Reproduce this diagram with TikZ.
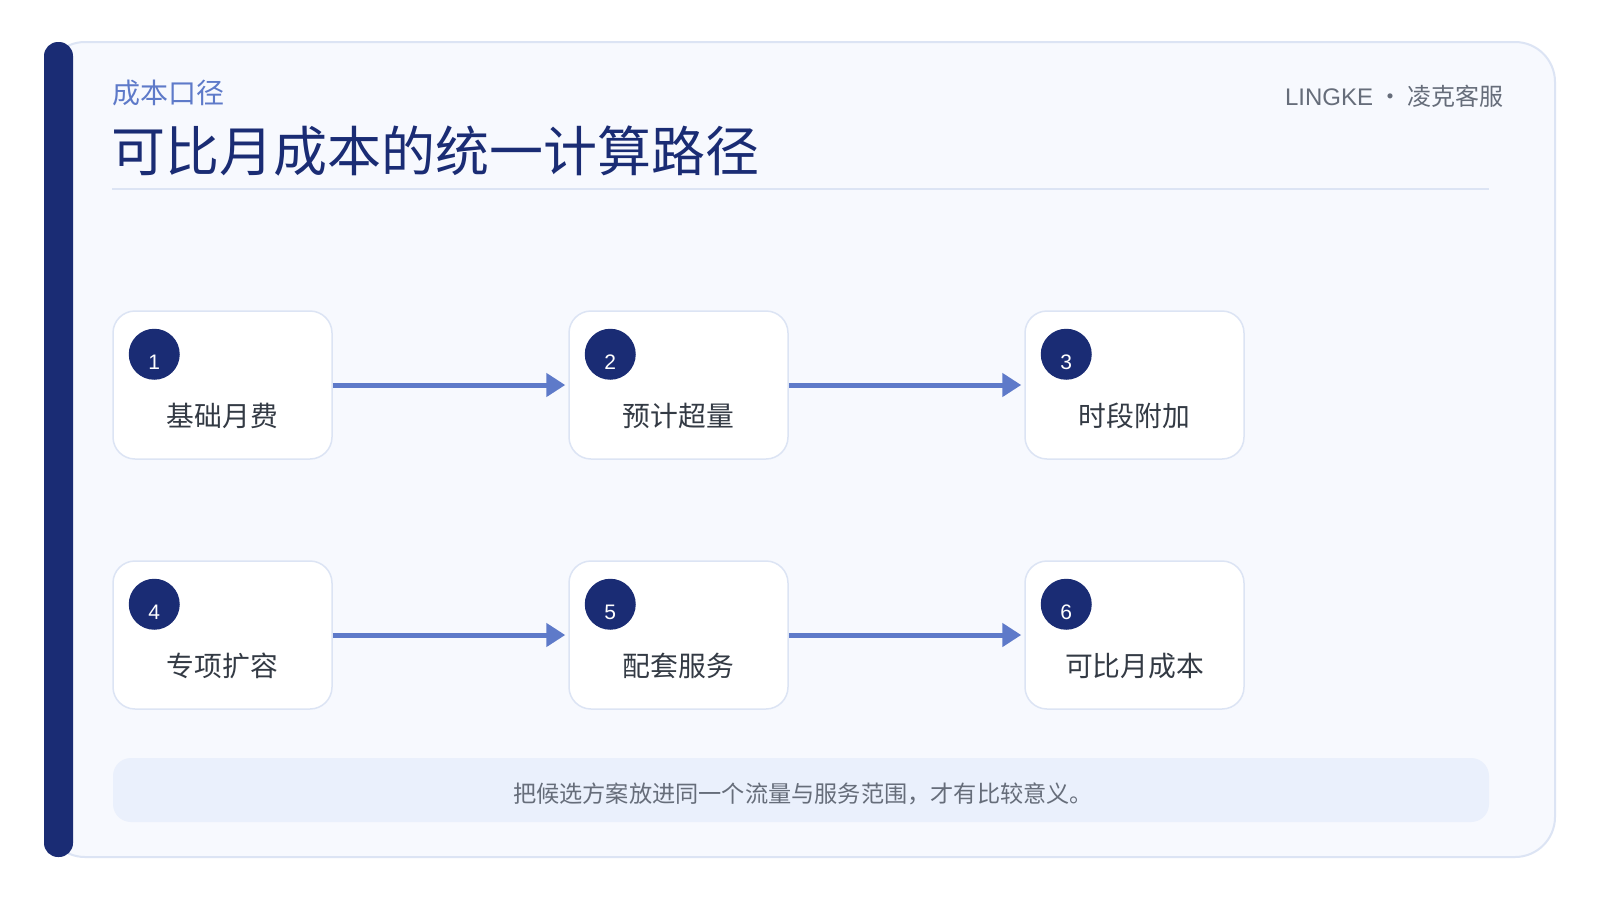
\documentclass[tikz,border=0pt]{standalone}
\usepackage{fontspec}
\setmainfont{Noto Sans CJK SC}
\newfontfamily\latinfont{Liberation Sans}
\usetikzlibrary{arrows.meta}
\definecolor{navy}{HTML}{1A2C74}
\definecolor{accent}{HTML}{5E7AC9}
\definecolor{cardfill}{HTML}{F7F9FE}
\definecolor{cardline}{HTML}{DCE4F4}
\definecolor{footfill}{HTML}{EAF0FC}
\definecolor{lbltext}{HTML}{333A44}
\definecolor{graytext}{HTML}{666D7A}
\tikzset{
  stepbox/.style={draw=cardline, fill=white, line width=1.5pt, rounded corners=22pt,
    minimum width=219pt, minimum height=148pt, inner sep=0pt},
  numdot/.style={circle, fill=navy, minimum size=51pt, inner sep=0pt},
  numtxt/.style={text=white, inner sep=0pt, font=\latinfont\fontsize{21}{24}\selectfont},
  lbl/.style={text=lbltext, inner sep=0pt, font=\fontsize{27.8}{32}\selectfont},
  flow/.style={draw=accent, line width=5pt, -{Triangle[length=19pt,width=23pt]}, shorten >=3pt},
}
\begin{document}
\begin{tikzpicture}[x=1pt,y=-1pt]
\useasboundingbox (0,0) rectangle (1600,900);
\fill[white] (0,0) rectangle (1600,900);
% card
\draw[cardline, fill=cardfill, line width=2pt, rounded corners=40pt] (45,42) rectangle (1555,857);
\fill[navy, rounded corners=14pt] (44,42) rectangle (73,857);
% header
\node[anchor=base west, inner sep=0pt, text=accent, font=\fontsize{28}{32}\selectfont] (sub) at (112,103) {成本口径};
\node[anchor=base west, inner sep=0pt, text=navy, font=\fontsize{54}{60}\selectfont] (title) at (111,171) {可比月成本的统一计算路径};
\node[anchor=base east, inner sep=0pt, text=graytext, font=\fontsize{24}{28}\selectfont] (brand) at (1504,105) {{\latinfont LINGKE} · 凌克客服};
\draw[cardline, line width=1.5pt] (112,189) -- (1489,189);
% steps
\foreach \i/\x/\y/\t in {1/222.5/385/基础月费, 2/678.5/385/预计超量, 3/1134.5/385/时段附加,
                          4/222.5/635/专项扩容, 5/678.5/635/配套服务, 6/1134.5/635/可比月成本} {
  \node[stepbox] (b\i) at (\x,\y) {};
  \node[numdot] (c\i) at ([xshift=42pt,yshift=-44pt]b\i.north west) {};
  \node[numtxt, anchor=base] (n\i) at ([yshift=-15pt]c\i.center) {\i};
  \node[lbl, anchor=base] (l\i) at ([yshift=-41pt]b\i.center) {\t};
}
\draw[flow] (b1.east) -- (b2.west);
\draw[flow] (b2.east) -- (b3.west);
\draw[flow] (b4.east) -- (b5.west);
\draw[flow] (b5.east) -- (b6.west);
% footer
\node[fill=footfill, rounded corners=18pt, minimum width=1376pt, minimum height=64pt, inner sep=0pt] (foot) at (801,790) {};
\node[anchor=base, inner sep=0pt, text=graytext, font=\fontsize{23.2}{26}\selectfont] (foottxt) at (803,802) {把候选方案放进同一个流量与服务范围，才有比较意义。};
\end{tikzpicture}
\end{document}
